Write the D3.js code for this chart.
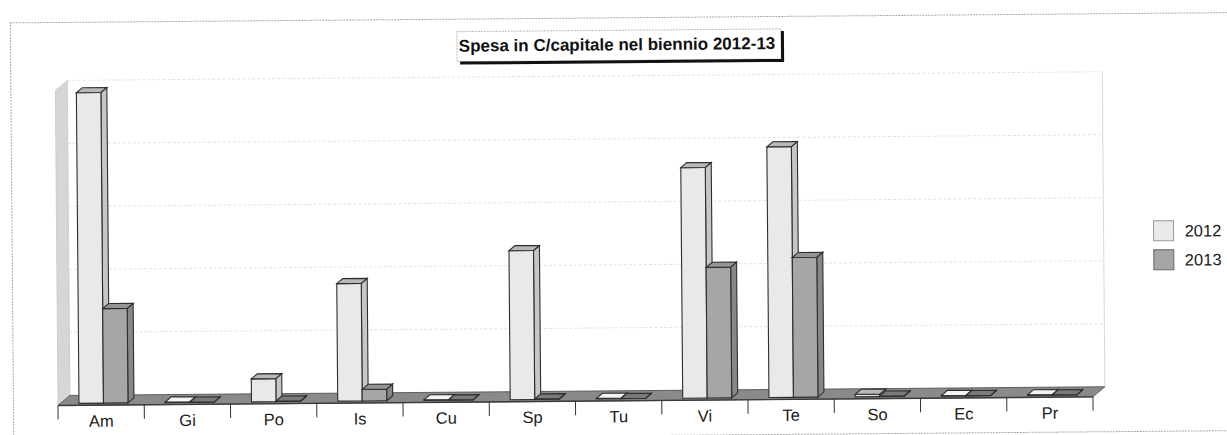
<!DOCTYPE html>
<html>
<head>
<meta charset="utf-8">
<script src="https://cdn.jsdelivr.net/npm/d3@7"></script>
<style>
  html, body { margin: 0; padding: 0; background: #ffffff; }
  svg { display: block; font-family: "Liberation Sans", Arial, sans-serif; }
</style>
</head>
<body>
<svg id="chart" width="1227" height="435"></svg>
<script>
// Capital expenditure by sector, 2012 vs 2013 (thousand euro)
const categories = ["Am", "Gi", "Po", "Is", "Cu", "Sp", "Tu", "Vi", "Te", "So", "Ec", "Pr"];
const seriesNames = ["2012", "2013"];
const values2012 = [986, 2, 73, 373, 2, 473, 2, 732, 796, 8, 2, 2];
const values2013 = [300, 1, 2, 37, 1, 2, 1, 415, 444, 2, 1, 1];
const gridTicks = [0, 200, 400, 600, 800, 1000];
const titleText = "Spesa in C/capitale nel biennio 2012-13";

const svg = d3.select("#chart");
const root = svg.append("g").attr("transform", "rotate(-0.48, 58, 405)");

// outer page frame
root.append("rect")
  .attr("x", 13.5).attr("y", 22.5).attr("width", 1240).attr("height", 418)
  .attr("fill", "none").attr("stroke", "#a9a9a9").attr("stroke-dasharray", "2,1");

// geometry of the pseudo-3D plot
const floorFront = 405.5, barBase = 403.5;
const wallDepth = { dx: 12, dy: -10 };
const barDepth = { dx: 6, dy: -5 };

const x = d3.scaleBand().domain(categories).range([58, 1093]).padding(0);
const xs = d3.scaleBand().domain(seriesNames).range([21, 70]).padding(0);
const y = d3.scaleLinear().domain([0, 1000]).range([barBase, barBase - 315]);
const yBack = d3.scaleLinear().domain([0, 1000]).range([floorFront + wallDepth.dy, floorFront + wallDepth.dy - 315]);
const yWall = d3.scaleLinear().domain([0, 1000]).range([floorFront, floorFront - 315]);

const x0 = x.range()[0], x1 = x.range()[1];

// left side wall
root.append("polygon")
  .attr("points", [
    [x0, floorFront], [x0, yWall(1000)],
    [x0 + wallDepth.dx, yBack(1000)], [x0 + wallDepth.dx, yBack(0)]
  ].map(p => p.join(",")).join(" "))
  .attr("fill", "#d6d6d6").attr("stroke", "#c8c8c8").attr("stroke-width", 0.8);

// back wall gridlines
root.append("g").selectAll("line").data(gridTicks.slice(1)).join("line")
  .attr("x1", x0 + wallDepth.dx).attr("x2", x1 + wallDepth.dx)
  .attr("y1", d => yBack(d)).attr("y2", d => yBack(d))
  .attr("stroke", "#e2e2e2").attr("stroke-width", 1).attr("stroke-dasharray", "3,2");

// back wall right edge
root.append("line")
  .attr("x1", x1 + wallDepth.dx).attr("x2", x1 + wallDepth.dx)
  .attr("y1", yBack(1000)).attr("y2", yBack(0))
  .attr("stroke", "#d8d8d8").attr("stroke-width", 1);

// floor
root.append("polygon")
  .attr("points", [
    [x0, floorFront], [x1, floorFront],
    [x1 + wallDepth.dx, floorFront + wallDepth.dy], [x0 + wallDepth.dx, floorFront + wallDepth.dy]
  ].map(p => p.join(",")).join(" "))
  .attr("fill", "#8a8a8a").attr("stroke", "#555").attr("stroke-width", 0.9);
root.append("line")
  .attr("x1", x0).attr("x2", x1).attr("y1", floorFront).attr("y2", floorFront)
  .attr("stroke", "#3a3a3a").attr("stroke-width", 1.4);

// bars
const styles = {
  "2012": { front: "#e9e9e9", side: "#c6c6c6", top: "#b8b8b8" },
  "2013": { front: "#a6a6a6", side: "#878787", top: "#949494" }
};
const rows = [];
categories.forEach((c, i) => {
  rows.push({ cat: c, s: "2012", v: values2012[i] });
  rows.push({ cat: c, s: "2013", v: values2013[i] });
});

const bars = root.append("g").selectAll("g").data(rows).join("g");
bars.each(function (d) {
  const g = d3.select(this);
  const bx = x(d.cat) + xs(d.s), bw = xs.bandwidth();
  const yt = y(d.v), yb = y(0);
  const st = styles[d.s];
  const dx = barDepth.dx, dy = barDepth.dy;
  const pts = a => a.map(p => p.join(",")).join(" ");
  g.append("polygon")
    .attr("points", pts([[bx + bw, yt], [bx + bw + dx, yt + dy], [bx + bw + dx, yb + dy], [bx + bw, yb]]))
    .attr("fill", st.side).attr("stroke", "#2e2e2e").attr("stroke-width", 1.1);
  g.append("rect")
    .attr("x", bx).attr("y", yt).attr("width", bw).attr("height", yb - yt)
    .attr("fill", st.front).attr("stroke", "#2e2e2e").attr("stroke-width", 1.1);
  g.append("polygon")
    .attr("points", pts([[bx, yt], [bx + dx, yt + dy], [bx + bw + dx, yt + dy], [bx + bw, yt]]))
    .attr("fill", d.v < 5 ? (d.s === "2012" ? "#f4f4f4" : "#7a7a7a") : st.top)
    .attr("stroke", "#2e2e2e").attr("stroke-width", 1.1);
});

// category axis: ticks and labels
const tickXs = categories.map(c => x(c)).concat([x1]);
root.append("g").selectAll("line").data(tickXs).join("line")
  .attr("x1", d => d).attr("x2", d => d)
  .attr("y1", floorFront).attr("y2", floorFront + 14)
  .attr("stroke", "#333").attr("stroke-width", 1);
root.append("g").selectAll("text").data(categories).join("text")
  .attr("x", d => x(d) + x.bandwidth() / 2)
  .attr("y", 427)
  .attr("text-anchor", "middle")
  .attr("font-size", 16.5)
  .attr("fill", "#1a1a1a")
  .text(d => d);

// title box with drop shadow
const tBox = { x: 460, y: 35, w: 324, h: 30 };
root.append("rect")
  .attr("x", tBox.x).attr("y", tBox.y).attr("width", tBox.w).attr("height", tBox.h)
  .attr("fill", "#fff").attr("stroke", "#aaa").attr("stroke-width", 0.8).attr("stroke-dasharray", "2,1");
root.append("path")
  .attr("d", `M${tBox.x + tBox.w + 1.5},${tBox.y + 2} V${tBox.y + tBox.h + 1.5} H${tBox.x + 3}`)
  .attr("fill", "none").attr("stroke", "#111").attr("stroke-width", 3);
root.append("text")
  .attr("x", tBox.x + tBox.w / 2 - 2).attr("y", tBox.y + 20)
  .attr("text-anchor", "middle")
  .attr("font-size", 17).attr("font-weight", "bold").attr("fill", "#111")
  .text(titleText);

// legend
const legend = root.append("g").selectAll("g").data(seriesNames).join("g")
  .attr("transform", (d, i) => `translate(1155, ${230 + i * 29})`);
legend.append("rect")
  .attr("width", 20).attr("height", 20)
  .attr("fill", d => styles[d].front)
  .attr("stroke", d => d === "2012" ? "#999" : "#666").attr("stroke-width", 1);
legend.append("text")
  .attr("x", 31).attr("y", 16)
  .attr("font-size", 16.5).attr("fill", "#1a1a1a")
  .text(d => d);
</script>
</body>
</html>
